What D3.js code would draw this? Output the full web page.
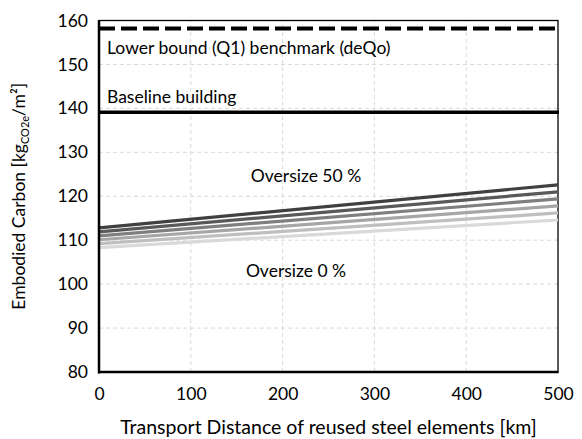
<!DOCTYPE html>
<html><head><meta charset="utf-8">
<script src="https://cdn.jsdelivr.net/npm/d3@7"></script>
<style>body{margin:0;background:#fff}svg{display:block}text{font-family:Lato,"Open Sans",sans-serif;fill:#000}</style>
</head><body><svg id="c" width="582" height="439"></svg>
<script>
const distances = [0, 500];
const oversizeLabels = ["0 %", "10 %", "20 %", "30 %", "40 %", "50 %"];
const startValues = [108.3, 109.2, 110.1, 111.0, 111.9, 112.8];
const endValues = [114.6, 116.2, 117.8, 119.4, 121.0, 122.6];
const lineColors = ["#d9d9d9", "#bfbfbf", "#a6a6a6", "#7f7f7f", "#595959", "#404040"];
const benchmarkValue = 158.2;
const baselineValue = 139.1;
const xTicks = [0, 100, 200, 300, 400, 500];
const yTicks = [80, 90, 100, 110, 120, 130, 140, 150, 160];

const FS = "17.5px";
const svg = d3.select("#c");
const m = {l: 99, r: 24, t: 20.5, b: 67};
const W = 582, H = 439;
const x = d3.scaleLinear().domain([0, 500]).range([m.l, W - m.r]);
const y = d3.scaleLinear().domain([80, 160]).range([H - m.b, m.t]);

// grid
svg.append("g").selectAll("line").data(yTicks.slice(1, -1)).join("line")
  .attr("x1", x(0)).attr("x2", x(500)).attr("y1", d => y(d)).attr("y2", d => y(d))
  .attr("stroke", "#d9d9d9").attr("stroke-width", 1).attr("stroke-dasharray", "4,3");
svg.append("g").selectAll("line").data(xTicks.slice(1, -1)).join("line")
  .attr("y1", y(80)).attr("y2", y(160)).attr("x1", d => x(d)).attr("x2", d => x(d))
  .attr("stroke", "#d9d9d9").attr("stroke-width", 1).attr("stroke-dasharray", "4,3");

// frame top/right
svg.append("rect").attr("x", x(0)).attr("y", y(160)).attr("width", x(500) - x(0)).attr("height", y(80) - y(160))
  .attr("fill", "none").attr("stroke", "#000").attr("stroke-width", 1.3);

// oversize lines
const series = oversizeLabels.map((lab, i) => ({lab, color: lineColors[i], pts: [[distances[0], startValues[i]], [distances[1], endValues[i]]]}));
const line = d3.line().x(d => x(d[0])).y(d => y(d[1]));
svg.append("g").selectAll("path").data(series).join("path")
  .attr("d", d => line(d.pts)).attr("fill", "none").attr("stroke", d => d.color).attr("stroke-width", 3.2);

// baseline and benchmark
svg.append("line").attr("x1", x(0)).attr("x2", x(500) + 1).attr("y1", y(baselineValue)).attr("y2", y(baselineValue))
  .attr("stroke", "#000").attr("stroke-width", 3.5);
svg.append("line").attr("x1", x(0)).attr("x2", x(500) + 3).attr("y1", y(benchmarkValue)).attr("y2", y(benchmarkValue))
  .attr("stroke", "#000").attr("stroke-width", 4).attr("stroke-dasharray", "16,6");

// axes
const yAxis = svg.append("g").attr("transform", `translate(${x(0)},0)`)
  .call(d3.axisLeft(y).tickValues(yTicks).tickSize(0).tickPadding(11));
const xAxis = svg.append("g").attr("transform", `translate(0,${y(80)})`)
  .call(d3.axisBottom(x).tickValues(xTicks).tickSize(0).tickPadding(16));
[yAxis, xAxis].forEach(g => { g.select(".domain").remove(); g.selectAll("text").style("font-size", FS).attr("fill", "#000").style("font-family", "Lato, 'Open Sans', sans-serif"); });
svg.append("line").attr("x1", x(0)).attr("x2", x(0)).attr("y1", y(160) - 0.5).attr("y2", y(80) + 1.5).attr("stroke", "#000").attr("stroke-width", 2.5);
svg.append("line").attr("x1", x(0) - 1).attr("x2", x(500) + 0.5).attr("y1", y(80)).attr("y2", y(80)).attr("stroke", "#000").attr("stroke-width", 2.5);

// annotations
const ann = [
  {t: "Lower bound (Q1) benchmark (deQo)", x: 107, y: 54, a: "start"},
  {t: "Baseline building", x: 107, y: 103, a: "start"},
  {t: "Oversize 50 %", x: 306, y: 182, a: "middle"},
  {t: "Oversize 0 %", x: 296, y: 277, a: "middle"}
];
svg.append("g").selectAll("text").data(ann).join("text")
  .attr("x", d => d.x).attr("y", d => d.y).attr("text-anchor", d => d.a)
  .style("font-size", FS).text(d => d.t);

// axis titles
svg.append("text").attr("x", (x(0) + x(500)) / 2).attr("y", 434).attr("text-anchor", "middle")
  .style("font-size", "19.5px").text("Transport Distance of reused steel elements [km]");
const yt = svg.append("text").attr("transform", `translate(25,${(y(80) + y(160)) / 2}) rotate(-90)`)
  .attr("text-anchor", "middle").style("font-size", FS);
yt.append("tspan").text("Embodied Carbon [kg");
yt.append("tspan").attr("dy", 4).style("font-size", "11px").text("CO2e");
yt.append("tspan").attr("dy", -4).text("/m²]");
</script></body></html>
